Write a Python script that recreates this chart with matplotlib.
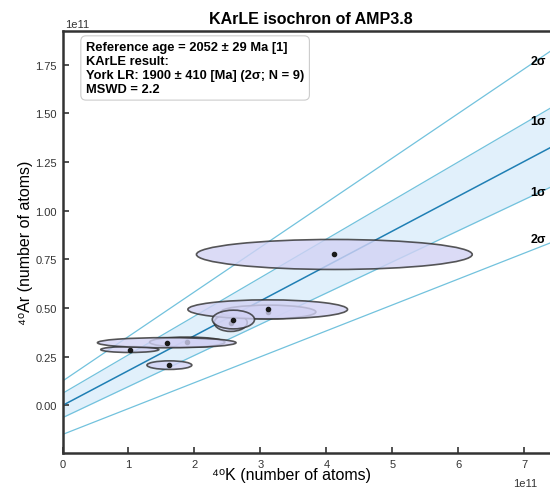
"""
    KArLE isochron plot of AMP3.8: data ellipses with the York regression
    line and its 1 sigma / 2 sigma envelopes.
"""
import matplotlib
matplotlib.use("Agg")
import matplotlib.pyplot as plt
import numpy
from matplotlib.patches import Ellipse

plt.rcParams['font.family'] = ['Liberation Sans', 'DejaVu Sans']

# data points (x = 40K, y = 40Ar, half axes of the error ellipses), units of 1e11 atoms
# listed in drawing order (later ones sit on top)
k40 = [1.02, 1.89, 1.58, 1.62, 2.55, 3.12, 3.11, 2.59, 4.12]
ar40 = [0.287, 0.325, 0.322, 0.207, 0.425, 0.480, 0.493, 0.441, 0.775]
k40_err = [0.44, 0.57, 1.05, 0.34, 0.25, 0.72, 1.21, 0.32, 2.09]
ar40_err = [0.015, 0.026, 0.026, 0.022, 0.045, 0.035, 0.049, 0.048, 0.077]

# regression line and envelopes: intercept (1e11 atoms) and slope
line_names = ['upper 2s', 'upper 1s', 'fit', 'lower 1s', 'lower 2s']
intercepts = [0.125, 0.062, 0.0, -0.063, -0.149]
slopes = [0.229, 0.198, 0.179, 0.160, 0.133]
sigma_labels = ['2σ', '1σ', '1σ', '2σ']
label_y = [1.766, 1.458, 1.098, 0.852]

info_lines = ["Reference age = 2052 ± 29 Ma [1]",
              "KArLE result:",
              "York LR: 1900 ± 410 [Ma] (2σ; N = 9)",
              "MSWD = 2.2"]

scale = 1e11
x_max = 7.54
y_min, y_max = -0.244, 1.922

fig = plt.figure(figsize=(5.5, 4.89), dpi=100)
ax = fig.add_axes([62.5 / 550, 35 / 489, 497.5 / 550, 422 / 489])

x = numpy.linspace(0, x_max, 200) * scale
lines = {}
for name, b, m in zip(line_names, intercepts, slopes):
    lines[name] = b * scale + m * x

# 1 sigma band
ax.fill_between(x, lines['lower 1s'], lines['upper 1s'], color='#e1f0fb', lw=0, zorder=1)
for name in line_names:
    if name == 'fit':
        ax.plot(x, lines[name], color='#1f7fb4', lw=1.1, zorder=2)
    else:
        ax.plot(x, lines[name], color='#72c2dd', lw=0.9, zorder=2)

for lab, ly in zip(sigma_labels, label_y):
    ax.text(7.21 * scale, ly * scale, lab, fontsize=9, fontweight='bold',
            ha='center', va='center', zorder=3)

# error ellipses, each followed by its centre dot
z = 5
for xi, yi, sx, sy in zip(k40, ar40, k40_err, ar40_err):
    e = Ellipse((xi * scale, yi * scale), 2 * sx * scale, 2 * sy * scale,
                facecolor='#d2d2f4', edgecolor='#2e2e2e', alpha=0.8, lw=1.2, zorder=z)
    ax.add_patch(e)
    ax.plot(xi * scale, yi * scale, 'o', color='#1a1a1a', ms=3, zorder=z + 1)
    z += 2

ax.set_xlim(0, x_max * scale)
ax.set_ylim(y_min * scale, y_max * scale)
ax.set_xticks(numpy.arange(0, 8) * scale)
ax.set_yticks(numpy.arange(0, 8) * 0.25 * scale)
ax.yaxis.set_major_formatter(matplotlib.ticker.FuncFormatter(lambda v, p: "%.2f" % (v / scale)))
ax.xaxis.set_major_formatter(matplotlib.ticker.FuncFormatter(lambda v, p: "%d" % round(v / scale)))
ax.tick_params(direction='in', length=4.5, width=1.2, colors='#333333', labelsize=8, pad=4)
for sp in ax.spines.values():
    sp.set_linewidth(1.8)
    sp.set_color('#333333')

fig.text(65 / 550, 1 - 25 / 489, "1e11", fontsize=8, color='#333333', va='center', ha='left')
fig.text(537 / 550, 1 - 484 / 489, "1e11", fontsize=8, color='#333333', va='center', ha='right')

ax.set_xlabel("⁴⁰K (number of atoms)", fontsize=11.5)
ax.xaxis.set_label_coords((292 - 62.5) / 497.5, -0.034)
ax.set_ylabel("⁴⁰Ar (number of atoms)", fontsize=11.5)
ax.yaxis.set_label_coords(-0.06, 0.5)
ax.set_title("KArLE isochron of AMP3.8", fontsize=11.5, fontweight='bold', pad=6)

ax.text((86 - 62.5) / 497.5, 1 - 10 / 422, "\n".join(info_lines),
        transform=ax.transAxes, fontsize=9.3, fontweight='bold', va='top', ha='left',
        linespacing=1.22, zorder=30,
        bbox=dict(boxstyle='round,pad=0.4', facecolor='white', edgecolor='#cccccc', lw=0.8))

fig.savefig("out.png", dpi=100)
